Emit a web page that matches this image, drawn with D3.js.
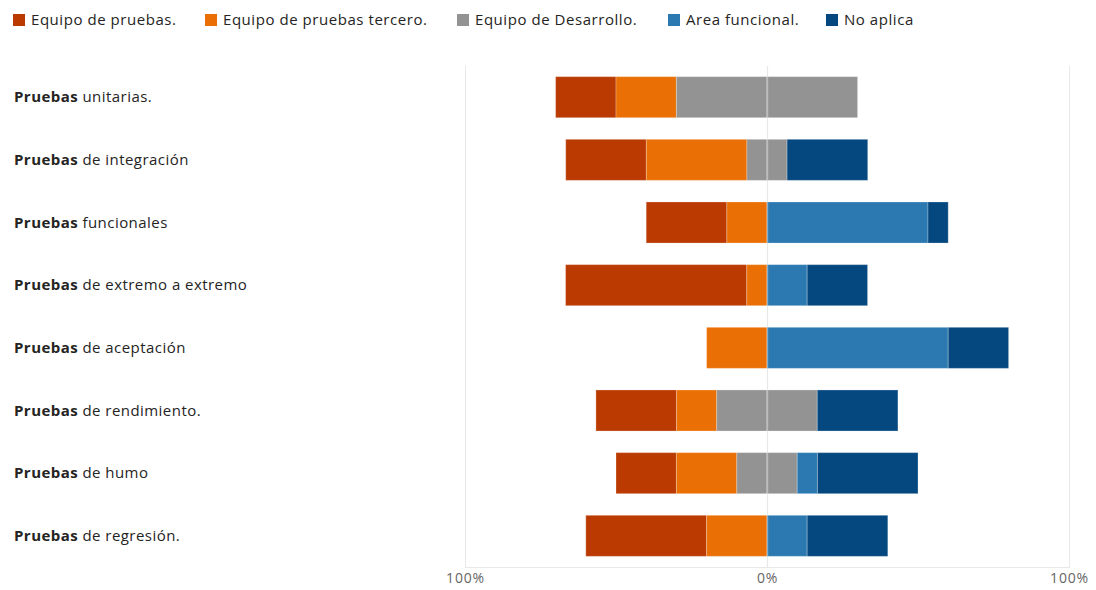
<!DOCTYPE html>
<html>
<head>
<meta charset="utf-8">
<script src="https://cdn.jsdelivr.net/npm/d3@7"></script>
<style>
  body { margin: 0; background: #fff; }
  svg { display: block; font-family: "Open Sans", "Noto Sans", sans-serif; }
</style>
</head>
<body>
<svg id="chart" width="1096" height="590"></svg>
<script>
// ---- Data ----
const categoriesBold = ["Pruebas", "Pruebas", "Pruebas", "Pruebas", "Pruebas", "Pruebas", "Pruebas", "Pruebas"];
const categoriesRest = ["unitarias.", "de integración", "funcionales", "de extremo a extremo", "de aceptación", "de rendimiento.", "de humo", "de regresión."];
const seriesNames = ["Equipo de pruebas.", "Equipo de pruebas tercero.", "Equipo de Desarrollo.", "Area funcional.", "No aplica"];
const equipoPruebas   = [20, 26.7, 26.7, 60, 0, 26.7, 20, 40];
const equipoTercero   = [20, 33.3, 13.3, 6.7, 20, 13.3, 20, 20];
const equipoDesarrollo= [60, 13.3, 0, 0, 0, 33.3, 20, 0];
const areaFuncional   = [0, 0, 53.3, 13.3, 60, 0, 6.7, 13.3];
const noAplica        = [0, 26.7, 6.7, 20, 20, 26.7, 33.3, 26.7];
const tickValues = [-100, 0, 100];
const tickLabels = ["100%", "0%", "100%"];
const colors = ["#BA3A02", "#EA7006", "#939393", "#2B79B0", "#04487F"];

// ---- Layout ----
const svg = d3.select("#chart");
const plotLeft = 465, plotRight = 1069, plotTop = 66, plotBottom = 567;
const keys = categoriesRest.map((d, i) => i);

const x = d3.scaleLinear().domain([-100, 100]).range([plotLeft, plotRight]);
const y = d3.scaleBand().domain(keys).range([plotTop, plotBottom]).paddingInner(0.345).paddingOuter(0.17);

// Gridlines (below)
const grid = svg.append("g");
grid.selectAll("line.v").data(tickValues).enter().append("line")
  .attr("x1", d => x(d) + 0.5).attr("x2", d => x(d) + 0.5)
  .attr("y1", plotTop).attr("y2", plotBottom)
  .attr("stroke", "#e8e8e8").attr("stroke-width", 1);
grid.append("line")
  .attr("x1", plotLeft).attr("x2", plotRight + 1)
  .attr("y1", plotBottom + 0.5).attr("y2", plotBottom + 0.5)
  .attr("stroke", "#e8e8e8").attr("stroke-width", 1);

// Build diverging segments
const segs = [];
keys.forEach(i => {
  const neutralHalf = equipoDesarrollo[i] / 2;
  let left = -(equipoPruebas[i] + equipoTercero[i] + neutralHalf);
  [[equipoPruebas[i], 0], [equipoTercero[i], 1], [neutralHalf, 2]].forEach(([v, c]) => {
    if (v > 0) segs.push({ row: i, x0: left, x1: left + v, c });
    left += v;
  });
  let right = 0;
  [[neutralHalf, 2], [areaFuncional[i], 3], [noAplica[i], 4]].forEach(([v, c]) => {
    if (v > 0) segs.push({ row: i, x0: right, x1: right + v, c });
    right += v;
  });
});

svg.append("g").selectAll("rect").data(segs).enter().append("rect")
  .attr("x", d => x(d.x0))
  .attr("width", d => x(d.x1) - x(d.x0))
  .attr("y", d => y(d.row))
  .attr("height", y.bandwidth())
  .attr("fill", d => colors[d.c])
  .attr("stroke", "rgba(255,255,255,0.25)")
  .attr("stroke-width", 1);

// Center line over bars
svg.append("line")
  .attr("x1", x(0) + 0.5).attr("x2", x(0) + 0.5)
  .attr("y1", plotTop).attr("y2", plotBottom)
  .attr("stroke", "#e8e8e8").attr("stroke-opacity", 0.4).attr("stroke-width", 1.5);

// Category labels
const lab = svg.append("g").selectAll("text").data(keys).enter().append("text")
  .attr("x", 14)
  .attr("y", d => y(d) + y.bandwidth() / 2)
  .attr("dy", "0.35em")
  .attr("font-size", 15)
  .attr("letter-spacing", 0.45)
  .attr("fill", "#252423");
lab.append("tspan").attr("font-weight", "bold").text(d => categoriesBold[d]);
lab.append("tspan").text(d => " " + categoriesRest[d]);

// X axis tick labels
const xAxis = d3.axisBottom(x).tickValues(tickValues).tickFormat((d, i) => tickLabels[i]).tickSize(0).tickPadding(6);
const ax = svg.append("g").attr("transform", `translate(0,${plotBottom})`).call(xAxis);
ax.select(".domain").remove();
ax.selectAll("text").attr("font-size", 14).attr("letter-spacing", 0.8).attr("fill", "#666").attr("font-family", "\"Open Sans\", sans-serif");

// Legend
const legendX = [13, 205, 457, 668, 826];
const leg = svg.append("g").selectAll("g").data(seriesNames).enter().append("g")
  .attr("transform", (d, i) => `translate(${legendX[i]},0)`);
leg.append("rect").attr("x", 0).attr("y", 14).attr("width", 12).attr("height", 12)
  .attr("fill", (d, i) => colors[i]);
leg.append("text").attr("x", 18).attr("y", 25).attr("font-size", 15).attr("letter-spacing", 0.55)
  .attr("fill", "#252423").text(d => d);
</script>
</body>
</html>
